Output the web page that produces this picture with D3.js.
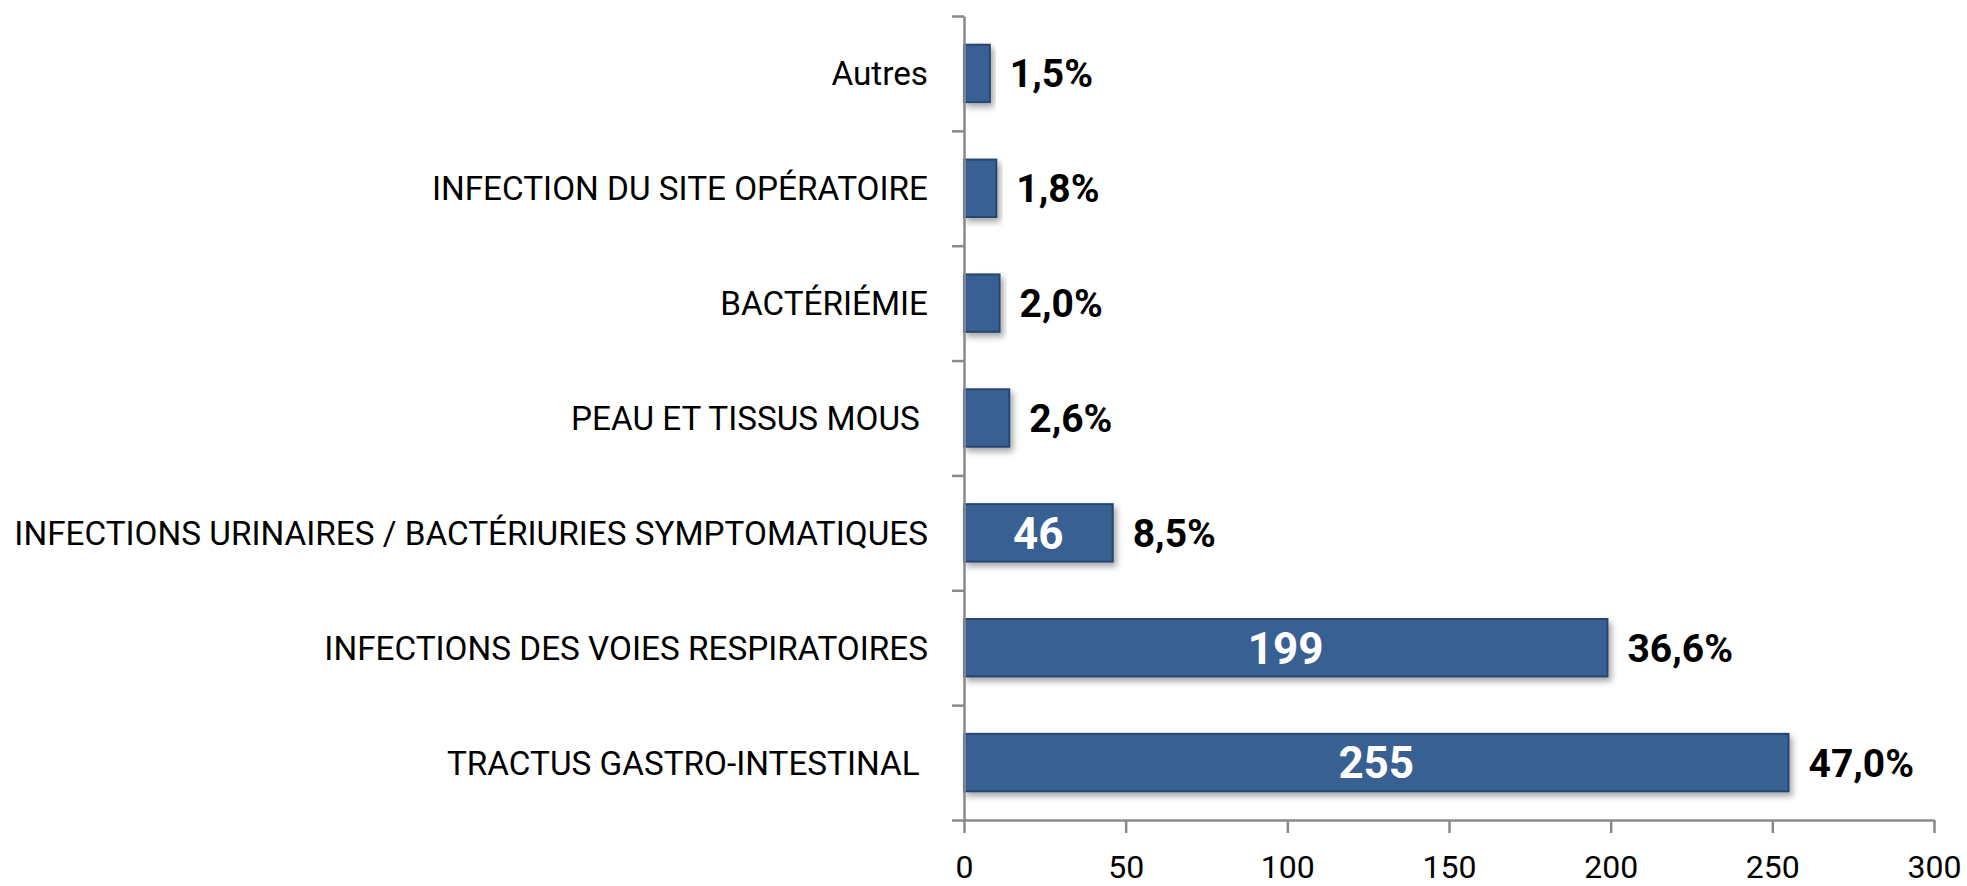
<!DOCTYPE html>
<html>
<head>
<meta charset="utf-8">
<script src="https://cdn.jsdelivr.net/npm/d3@7"></script>
<style>
  html, body { margin: 0; padding: 0; background: #ffffff; }
  svg text { font-family: Roboto, "Open Sans", sans-serif; }
</style>
</head>
<body>
<svg id="chart" width="1967" height="886"></svg>
<script>
// ---- Data (top to bottom as shown) ----
const categories = [
  "Autres",
  "INFECTION DU SITE OPÉRATOIRE",
  "BACTÉRIÉMIE",
  "PEAU ET TISSUS MOUS ",
  "INFECTIONS URINAIRES / BACTÉRIURIES SYMPTOMATIQUES",
  "INFECTIONS DES VOIES RESPIRATOIRES",
  "TRACTUS GASTRO-INTESTINAL "
];
const counts = [8, 10, 11, 14, 46, 199, 255];
const percentLabels = ["1,5%", "1,8%", "2,0%", "2,6%", "8,5%", "36,6%", "47,0%"];
const countLabels = ["", "", "", "", "46", "199", "255"];
const xTicks = [0, 50, 100, 150, 200, 250, 300];

(function () {
const svg = d3.select("#chart");
const mLeft = 964, mRight = 1934, mTop = 16, mBottom = 820;
const axisColor = "#8a8a8a";

const defs = svg.append("defs");
const f = defs.append("filter").attr("id", "shadow")
  .attr("x", "-10%").attr("y", "-30%").attr("width", "130%").attr("height", "180%");
f.append("feDropShadow").attr("dx", 3).attr("dy", 4).attr("stdDeviation", 3)
  .attr("flood-color", "#000").attr("flood-opacity", 0.35);

const x = d3.scaleLinear().domain([0, 300]).range([mLeft, mRight]);
const y = d3.scaleBand().domain(categories).range([mTop, mBottom])
  .paddingInner(0.5).paddingOuter(0.25);
const yEdge = d3.scaleLinear().domain([0, categories.length]).range([mTop, mBottom]);

const data = categories.map((c, i) => ({
  cat: c, v: counts[i], pct: percentLabels[i], lab: countLabels[i]
}));

// Bars
svg.append("g").selectAll("rect").data(data).join("rect")
  .attr("x", x(0))
  .attr("y", d => y(d.cat))
  .attr("width", d => x(d.v) - x(0))
  .attr("height", y.bandwidth())
  .attr("fill", "#386192")
  .attr("stroke", "#27456f")
  .attr("stroke-width", 2)
  .attr("filter", "url(#shadow)");

// X axis
const xAxis = svg.append("g").attr("transform", `translate(0,${mBottom})`)
  .call(d3.axisBottom(x).tickValues(xTicks).tickSize(13).tickSizeOuter(0));
xAxis.select(".domain").attr("stroke", axisColor).attr("stroke-width", 2.5);
xAxis.selectAll(".tick line").attr("stroke", axisColor).attr("stroke-width", 2.5);
xAxis.selectAll(".tick text")
  .attr("y", 46).attr("dy", "0.36em")
  .attr("fill", "#000").style("font-size", "32px")
  .style("font-family", "Roboto, 'Open Sans', sans-serif");

// Y axis (ticks at category boundaries)
const yAxis = svg.append("g").attr("transform", `translate(${mLeft},0)`)
  .call(d3.axisLeft(yEdge).tickValues(d3.range(categories.length + 1))
    .tickFormat("").tickSize(12).tickSizeOuter(0));
yAxis.select(".domain").attr("stroke", axisColor).attr("stroke-width", 2.5);
yAxis.selectAll(".tick line").attr("stroke", axisColor).attr("stroke-width", 2.5);

// Category labels
svg.append("g").selectAll("text").data(data).join("text")
  .attr("x", 928)
  .attr("y", d => y(d.cat) + y.bandwidth() / 2)
  .attr("dy", "0.36em")
  .attr("text-anchor", "end")
  .style("white-space", "pre")
  .style("font-size", "33.3px")
  .attr("fill", "#000")
  .text(d => d.cat);

// Count labels inside bars
svg.append("g").selectAll("text").data(data.filter(d => d.lab)).join("text")
  .attr("x", d => (x(0) + x(d.v)) / 2)
  .attr("y", d => y(d.cat) + y.bandwidth() / 2)
  .attr("dy", "0.36em")
  .attr("text-anchor", "middle")
  .style("font-size", "44px")
  .style("font-weight", "bold")
  .attr("fill", "#ffffff")
  .text(d => d.lab);

// Percentage labels
svg.append("g").selectAll("text").data(data).join("text")
  .attr("x", d => x(d.v) + 20)
  .attr("y", d => y(d.cat) + y.bandwidth() / 2)
  .attr("dy", "0.36em")
  .attr("text-anchor", "start")
  .style("font-size", "39px")
  .style("font-weight", "bold")
  .attr("fill", "#000")
  .text(d => d.pct);
})();
</script>
</body>
</html>
